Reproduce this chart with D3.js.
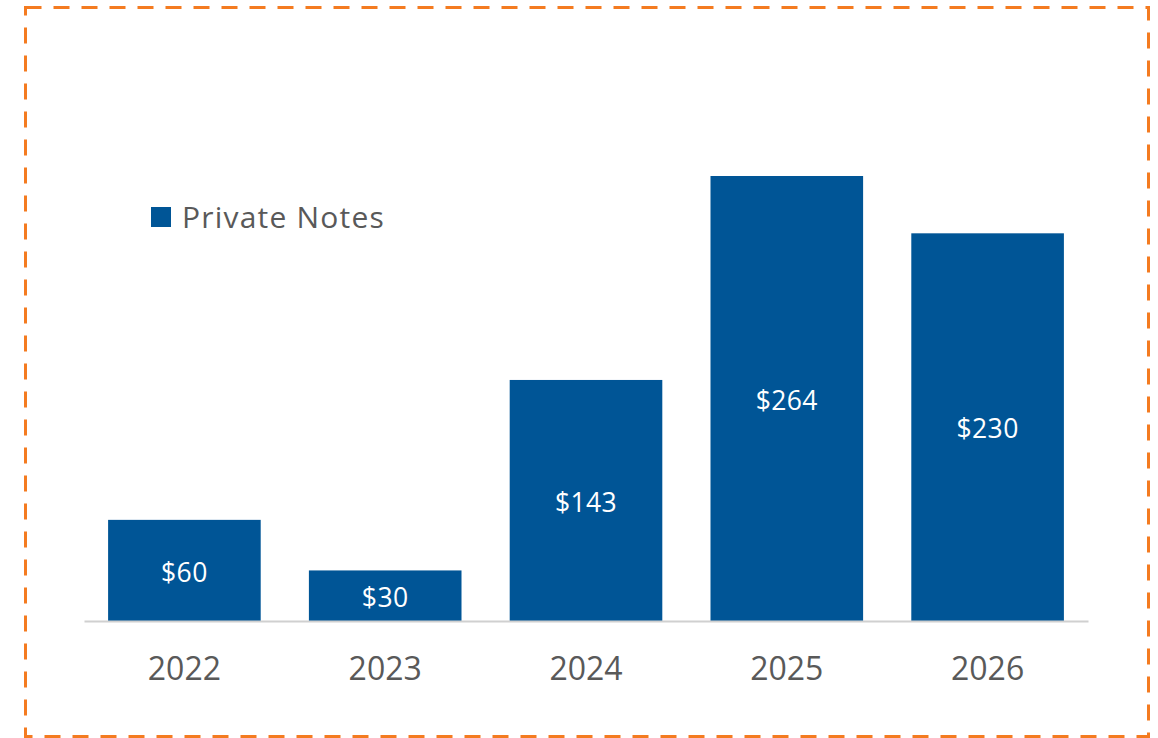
<!DOCTYPE html>
<html>
<head>
<meta charset="utf-8">
<script src="https://cdn.jsdelivr.net/npm/d3@7"></script>
<style>
  html, body { margin: 0; padding: 0; background: #fff; }
  svg { display: block; }
</style>
</head>
<body>
<script>
// chart data
const years = ['2022', '2023', '2024', '2025', '2026'];
const privateNotes = [60, 30, 143, 264, 230];
const seriesName = 'Private Notes';

const width = 1158, height = 738;
const barColor = '#005596';
const textColor = '#595959';

const svg = d3.select('body').append('svg')
    .attr('width', width)
    .attr('height', height);

// dashed orange frame
svg.append('rect')
    .attr('x', 25.5).attr('y', 7.5)
    .attr('width', 1123).attr('height', 729)
    .attr('fill', 'none')
    .attr('stroke', '#F47B20')
    .attr('stroke-width', 3)
    .attr('stroke-dasharray', '16,12');

const x = d3.scaleBand()
    .domain(years)
    .range([84, 1088])
    .paddingInner(0.24)
    .paddingOuter(0.12);

const y = d3.scaleLinear()
    .domain([0, 264])
    .range([621, 176]);

// bars
svg.selectAll('.bar')
    .data(years)
    .enter().append('rect')
    .attr('class', 'bar')
    .attr('x', d => x(d))
    .attr('y', (d, i) => y(privateNotes[i]))
    .attr('width', x.bandwidth())
    .attr('height', (d, i) => y(0) - y(privateNotes[i]))
    .attr('fill', barColor);

// value labels in the middle of each bar
svg.selectAll('.val')
    .data(years)
    .enter().append('text')
    .attr('class', 'val')
    .attr('x', d => x(d) + x.bandwidth() / 2)
    .attr('y', (d, i) => (y(0) + y(privateNotes[i])) / 2)
    .attr('dy', '0.42em')
    .attr('text-anchor', 'middle')
    .attr('font-family', 'Open Sans, sans-serif')
    .attr('font-size', 26.5)
    .attr('letter-spacing', 0.4)
    .attr('fill', '#fff')
    .text((d, i) => '$' + privateNotes[i]);

// x axis
const xAxis = svg.append('g')
    .attr('transform', `translate(0,${y(0)})`)
    .call(d3.axisBottom(x).tickSize(0).tickPadding(36));
xAxis.select('.domain')
    .attr('stroke', '#d0d0d0')
    .attr('stroke-width', 2);
xAxis.selectAll('text')
    .attr('font-family', 'Open Sans, sans-serif')
    .attr('font-size', 32)
    .attr('fill', textColor);

// legend
const legend = svg.append('g').attr('transform', 'translate(151,207)');
legend.append('rect')
    .attr('width', 20).attr('height', 20)
    .attr('fill', barColor);
legend.append('text')
    .attr('x', 31).attr('y', 10)
    .attr('dy', '0.36em')
    .attr('font-family', 'Open Sans, sans-serif')
    .attr('font-size', 30)
    .attr('letter-spacing', 1.2)
    .attr('fill', textColor)
    .text(seriesName);
</script>
</body>
</html>
